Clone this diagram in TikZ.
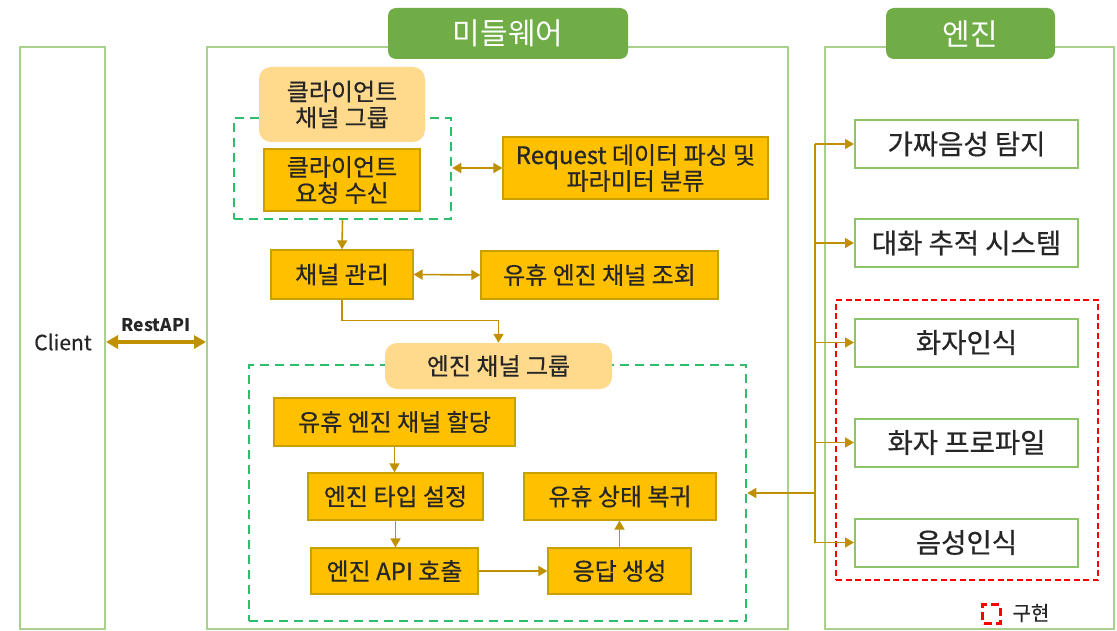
\documentclass[tikz,border=0pt]{standalone}
\usepackage{fontspec}
\setmainfont{Noto Sans CJK KR}
\newfontfamily\kb{Noto Sans CJK KR}[FakeBold=0.5]
\usetikzlibrary{arrows.meta}
\definecolor{gold}{HTML}{FFC000}
\definecolor{goldline}{HTML}{BF9000}
\definecolor{goldedge}{HTML}{C9A000}
\definecolor{panelgreen}{HTML}{A9D18E}
\definecolor{tabgreen}{HTML}{70AD47}
\definecolor{dashgreen}{HTML}{2DBE6C}
\definecolor{lightorange}{HTML}{FFD98C}
\definecolor{enggreen}{HTML}{8CC46A}
\definecolor{txt}{HTML}{262626}
\tikzset{
  panel/.style={draw=panelgreen, line width=2pt, inner sep=0pt},
  tab/.style={fill=tabgreen, rounded corners=8pt, text=white, inner sep=0pt, font=\fontsize{30}{34}\selectfont},
  gbox/.style={fill=gold, draw=goldedge, line width=1.2pt, inner sep=0pt, align=center, text=txt, font=\kb\fontsize{24}{26}\selectfont},
  grp/.style={fill=lightorange, rounded corners=12pt, inner sep=0pt, align=center, text=txt, font=\kb\fontsize{24}{26}\selectfont},
  ebox/.style={fill=white, draw=enggreen, line width=2pt, inner sep=0pt, text=txt, font=\kb\fontsize{27.5}{30}\selectfont},
  gdash/.style={draw=dashgreen, dash pattern=on 9pt off 6pt, line width=2.5pt, inner sep=0pt},
  rdash/.style={draw=red, dash pattern=on 6pt off 3.5pt, line width=2pt, inner sep=0pt},
  conn/.style={draw=goldline, line width=1.6pt, -{Triangle[length=9pt,width=10pt]}},
  conn2/.style={draw=goldline, line width=1.6pt, {Triangle[length=9pt,width=10pt]}-{Triangle[length=9pt,width=10pt]}},
  plain/.style={draw=goldline, line width=1.6pt},
}
\begin{document}
\begin{tikzpicture}[x=1pt,y=-1pt]
\useasboundingbox (0,0) rectangle (1117,631);
% panels
\node[panel, minimum width=85, minimum height=582] (client) at (62.5,338) {};
\node[panel, minimum width=581, minimum height=582] (mw) at (497.5,338) {};
\node[panel, minimum width=289, minimum height=582] (eng) at (969.5,338) {};
\node[tab, minimum width=240, minimum height=51] (mwtab) at (508,33.5) {미들웨어};
\node[tab, minimum width=169, minimum height=51] (engtab) at (970.5,33.5) {엔진};
\node[text=txt, font=\kb\fontsize{21}{24}\selectfont] (clienttxt) at (63,342) {Client};
% client channel group
\node[gdash, minimum width=217, minimum height=101] (cgd) at (342.5,168.5) {};
\node[grp, minimum width=166, minimum height=75] (cgrp) at (342,104.5) {클라이언트\\채널 그룹};
\node[gbox, minimum width=156, minimum height=62] (crecv) at (342,180) {클라이언트\\요청 수신};
\node[gbox, minimum width=265, minimum height=62] (req) at (635.5,168) {Request 데이터 파싱 및\\파라미터 분류};
\node[gbox, minimum width=142, minimum height=49] (chm) at (342,274.5) {채널 관리};
\node[gbox, minimum width=237, minimum height=48] (idq) at (599.5,275) {유휴 엔진 채널 조회};
% engine channel group
\node[gdash, minimum width=497, minimum height=256] (egd) at (497.5,493) {};
\node[grp, minimum width=227, minimum height=46] (egrp) at (498.5,366) {엔진 채널 그룹};
\node[gbox, minimum width=241, minimum height=48] (alloc) at (394.5,422) {유휴 엔진 채널 할당};
\node[gbox, minimum width=175, minimum height=47] (etype) at (395.5,496.5) {엔진 타입 설정};
\node[gbox, minimum width=192, minimum height=47] (ret) at (620,496.5) {유휴 상태 복귀};
\node[gbox, minimum width=167, minimum height=46] (api) at (394.5,571) {엔진 API 호출};
\node[gbox, minimum width=143, minimum height=46] (resp) at (619.5,571) {응답 생성};
% engine boxes
\node[rdash, minimum width=262, minimum height=280] (impl) at (967,440) {};
\node[ebox, minimum width=223, minimum height=48] (e1) at (966.5,144) {가짜음성 탐지};
\node[ebox, minimum width=223, minimum height=48] (e2) at (966.5,243) {대화 추적 시스템};
\node[ebox, minimum width=223, minimum height=48] (e3) at (966.5,342.5) {화자인식};
\node[ebox, minimum width=223, minimum height=48] (e4) at (966.5,442.5) {화자 프로파일};
\node[ebox, minimum width=223, minimum height=48] (e5) at (966.5,542.5) {음성인식};
% legend
\node[rdash, line width=3pt, dash pattern=on 8pt off 4pt, dash phase=-2pt, minimum width=18, minimum height=19] (leg) at (991,614) {};
\node[text=txt, font=\kb\fontsize{20}{24}\selectfont, anchor=west] (legtxt) at (1009,613) {구현};
% connectors
\draw[draw=goldline, line width=3.5pt, {Triangle[length=12pt,width=13pt]}-{Triangle[length=12pt,width=13pt]}] (client.east |- clienttxt) -- (mw.west |- clienttxt)
  node[midway, above=5pt, text=txt, font=\bfseries\fontsize{17.5}{20}\selectfont] (restlbl) {RestAPI};
\draw[conn2] (cgd.east |- req.west) -- (req.west);
\draw[conn] (cgd.south) -- (chm.north);
\draw[conn2] (chm.east) -- (idq.west);
\draw[conn] (chm.south) -- ++(0,21) -| (egrp.north);
\draw[conn] (alloc.south) -- (alloc.south |- etype.north);
\draw[conn] (etype.south) -- (etype.south |- api.north);
\draw[conn] (api.east) -- (resp.west);
\draw[conn] (resp.north) -- (resp.north |- ret.south);
\coordinate (bus) at (815,493);
\draw[conn] (bus) -- (egd.east |- bus);
\draw[plain] (bus |- e1.west) -- (bus |- e5.west);
\foreach \e in {e1,e2,e3,e4,e5} {\draw[conn] (bus |- \e.west) -- (\e.west);}
\end{tikzpicture}
\end{document}
